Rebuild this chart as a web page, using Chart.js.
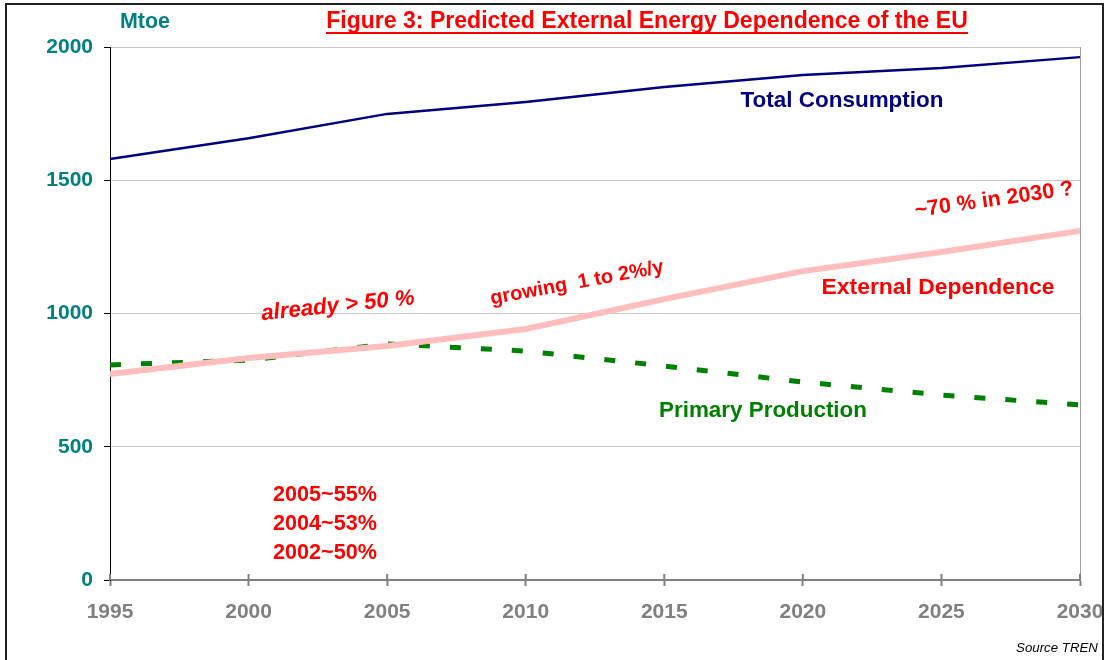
<!DOCTYPE html>
<html>
<head>
<meta charset="utf-8">
<script src="https://cdn.jsdelivr.net/npm/chart.js@4"></script>
<style>
  html, body { margin: 0; padding: 0; background: #fff; }
  #wrap { width: 1109px; height: 660px; position: relative; }
</style>
</head>
<body>
<div id="wrap"><canvas id="chart" width="1109" height="660"></canvas></div>
<script>
const FONT = "'Liberation Sans', Arial, sans-serif";

// data (Mtoe)
const years = ['1995', '2000', '2005', '2010', '2015', '2020', '2025', '2030'];
const totalConsumption = [1580, 1658, 1749, 1794, 1850, 1895, 1921, 1962];
const externalDependence = [773, 833, 878, 942, 1054, 1159, 1231, 1310];
const primaryProduction = [807, 825, 886, 859, 803, 743, 694, 657];
const yTicks = [0, 500, 1000, 1500, 2000];
const shareNotes = ['2005~55%', '2004~53%', '2002~50%'];

// draw a text centred at x,y, sized to fit the given width
const drawText = (ctx, text, x, y, o) => {
	ctx.save();
	ctx.translate(x, y);
	if (o.rot) ctx.rotate(o.rot * Math.PI / 180);
	let size = o.size;
	const style = (o.italic ? 'italic ' : '') + (o.bold === false ? '' : 'bold ');
	ctx.font = style + size + 'px ' + FONT;
	if (o.width) {
		size = size * o.width / ctx.measureText(text).width;
		ctx.font = style + size.toFixed(2) + 'px ' + FONT;
	}
	ctx.fillStyle = o.color;
	ctx.textAlign = o.align || 'center';
	ctx.textBaseline = 'middle';
	ctx.fillText(text, 0, 0);
	ctx.restore();
};

const decorations = {
	id: 'decorations',
	beforeDraw(chart) {
		const ctx = chart.ctx;
		ctx.save();
		ctx.fillStyle = '#fff';
		ctx.fillRect(0, 0, chart.width, chart.height);
		ctx.restore();
	},
	afterDraw(chart) {
		const ctx = chart.ctx;
		const area = chart.chartArea;
		const xs = chart.scales.x;

		// right border of the plot
		ctx.save();
		ctx.strokeStyle = '#a0a0a0';
		ctx.lineWidth = 1;
		ctx.beginPath();
		ctx.moveTo(area.right + 0.5, area.top);
		ctx.lineTo(area.right + 0.5, area.bottom);
		ctx.stroke();

		// upper half of the x tick marks
		ctx.strokeStyle = '#808080';
		ctx.lineWidth = 2;
		years.forEach((y, i) => {
			const px = xs.getPixelForTick(i);
			ctx.beginPath();
			ctx.moveTo(px, area.bottom - 6);
			ctx.lineTo(px, area.bottom);
			ctx.stroke();
		});

		// outer frame
		ctx.strokeStyle = '#222';
		ctx.lineWidth = 2;
		ctx.strokeRect(6, 4, 1097, 700);
		ctx.restore();

		// title
		drawText(ctx, 'Figure 3: Predicted External Energy Dependence of the EU', 647, 22, { size: 21, width: 642, color: '#ff0000' });
		ctx.save();
		ctx.strokeStyle = '#ff0000';
		ctx.lineWidth = 2;
		ctx.beginPath();
		ctx.moveTo(326, 33);
		ctx.lineTo(968, 33);
		ctx.stroke();
		ctx.restore();

		drawText(ctx, 'Mtoe', 145, 22, { size: 20, width: 50, color: '#008080' });

		drawText(ctx, 'Total Consumption', 842, 101, { size: 20, width: 203, color: '#000080' });
		drawText(ctx, 'External Dependence', 938, 288, { size: 20, width: 233, color: '#ff0000' });
		drawText(ctx, 'Primary Production', 763, 411, { size: 20, width: 208, color: '#008000' });

		drawText(ctx, 'already > 50 %', 338, 306, { size: 20, width: 154, color: '#ff0000', italic: true, rot: -6 });
		drawText(ctx, 'growing  1 to 2%/y', 577, 283, { size: 20, width: 176, color: '#ff0000', rot: -10.5 });
		drawText(ctx, '~70 % in 2030 ?', 994, 200, { size: 20, width: 160, color: '#ff0000', rot: -8 });

		shareNotes.forEach((t, i) => {
			drawText(ctx, t, 325, 495 + i * 29, { size: 20, width: 104, color: '#ff0000' });
		});

		drawText(ctx, 'Source TREN', 1057, 648, { size: 13, width: 82, color: '#000', bold: false, italic: true });
	}
};

new Chart(document.getElementById('chart'), {
	type: 'line',
	data: {
		labels: years,
		datasets: [{
			label: 'Total Consumption',
			data: totalConsumption,
			borderColor: '#000080',
			borderWidth: 2.5,
			pointRadius: 0,
			tension: 0,
			order: 0
		}, {
			label: 'External Dependence',
			data: externalDependence,
			borderColor: '#ffbebe',
			borderWidth: 6,
			pointRadius: 0,
			tension: 0,
			order: 1
		}, {
			label: 'Primary Production',
			data: primaryProduction,
			borderColor: '#008000',
			borderWidth: 5,
			borderDash: [11, 20],
			borderCapStyle: 'butt',
			pointRadius: 0,
			tension: 0,
			order: 2
		}]
	},
	options: {
		responsive: false,
		animation: false,
		layout: { padding: { top: 47, right: 29, left: 0, bottom: 0 } },
		plugins: {
			legend: { display: false },
			tooltip: { enabled: false }
		},
		scales: {
			x: {
				offset: false,
				grid: {
					drawOnChartArea: false,
					drawTicks: true,
					tickLength: 6,
					tickColor: '#808080',
					tickWidth: 2
				},
				border: { color: '#808080', width: 2 },
				ticks: {
					color: '#808080',
					font: { family: FONT, size: 21, weight: 'bold' },
					padding: 14,
					maxRotation: 0,
					autoSkip: false
				},
				afterFit(scale) {
					scale.height = 80;
					scale.paddingLeft = 0;
					scale.paddingRight = 0;
				}
			},
			y: {
				min: 0,
				max: 2000,
				afterBuildTicks(scale) { scale.ticks = yTicks.map(v => ({ value: v })); },
				grid: {
					color: ctx => ctx.tick && ctx.tick.value === 0 ? 'rgba(0,0,0,0)' : '#c8c8c8',
					tickColor: '#000',
					tickLength: 6,
					lineWidth: 1
				},
				border: { color: '#000', width: 1 },
				ticks: {
					color: '#008080',
					font: { family: FONT, size: 21, weight: 'bold' },
					padding: 11,
					callback: v => String(v)
				},
				afterFit(scale) {
					scale.width = 110;
					scale.paddingTop = 0;
					scale.paddingBottom = 0;
				}
			}
		}
	},
	plugins: [decorations]
});
</script>
</body>
</html>
